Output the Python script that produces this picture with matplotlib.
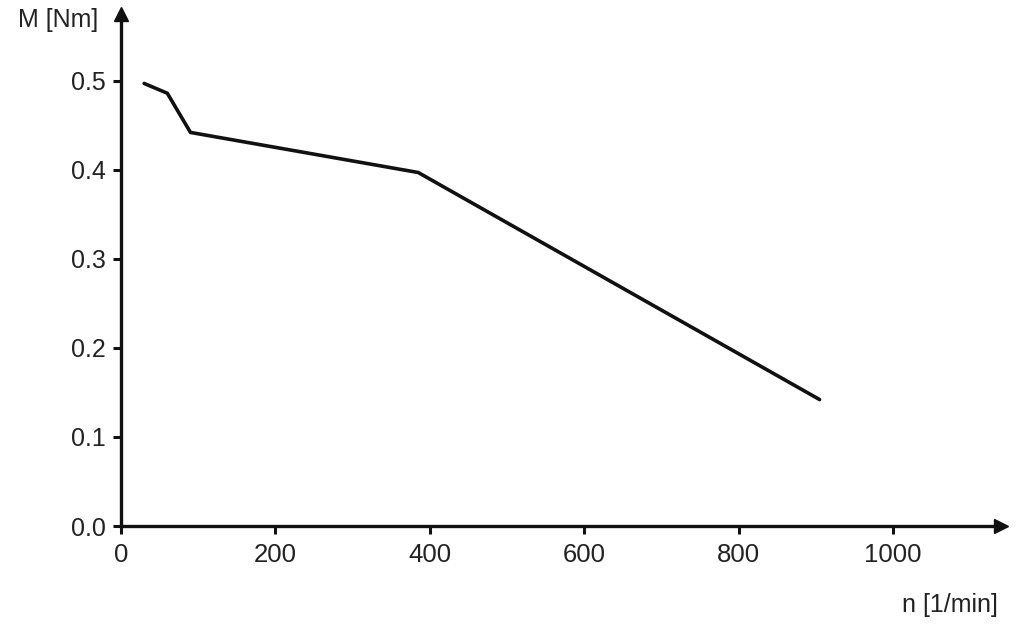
import numpy as np
import matplotlib
matplotlib.use("Agg")
import matplotlib.pyplot as plt

plt.rcParams['font.family'] = ['Liberation Sans', 'DejaVu Sans']

# torque curve
speed = [30, 60, 90, 385, 905]
torque = [0.497, 0.486, 0.442, 0.397, 0.142]

xticks = [0, 200, 400, 600, 800, 1000]
yticks = [0.0, 0.1, 0.2, 0.3, 0.4, 0.5]

fig = plt.figure(figsize=(10.24, 6.3), dpi=100)
ax = fig.add_axes([121/1024, 104/630, 880/1024, 512/630])

ax.plot(speed, torque, color='#111111', lw=2.6, solid_capstyle='round', solid_joinstyle='miter')

ax.set_xlim(0, 1140)
ax.set_ylim(0, 0.575)
ax.set_xticks(xticks)
ax.set_xticklabels([str(t) for t in xticks])
ax.set_yticks(yticks)
ax.set_yticklabels(["%.1f" % t for t in yticks])

for s in ['top', 'right']:
    ax.spines[s].set_visible(False)
for s in ['left', 'bottom']:
    ax.spines[s].set_linewidth(2.4)
    ax.spines[s].set_color('#111111')

ax.tick_params(axis='y', direction='out', length=6, width=2.2, color='#111111',
               labelsize=18, labelcolor='#222222', pad=5)
ax.tick_params(axis='x', direction='out', length=6, width=2.2, color='#111111',
               labelsize=18.5, labelcolor='#222222', pad=6)

# axis arrows
ax.plot(1, 0, marker='>', color='#111111', ms=10, transform=ax.get_yaxis_transform(), clip_on=False)
ax.plot(0, 1, marker='^', color='#111111', ms=10, transform=ax.get_xaxis_transform(), clip_on=False)

fig.text(18/1024, 1 - 20/630, 'M [Nm]', fontsize=18, color='#222222', ha='left', va='center')
fig.text(998/1024, 1 - 605/630, 'n [1/min]', fontsize=18, color='#222222', ha='right', va='center')

fig.savefig('out.png', dpi=100, facecolor='white')
